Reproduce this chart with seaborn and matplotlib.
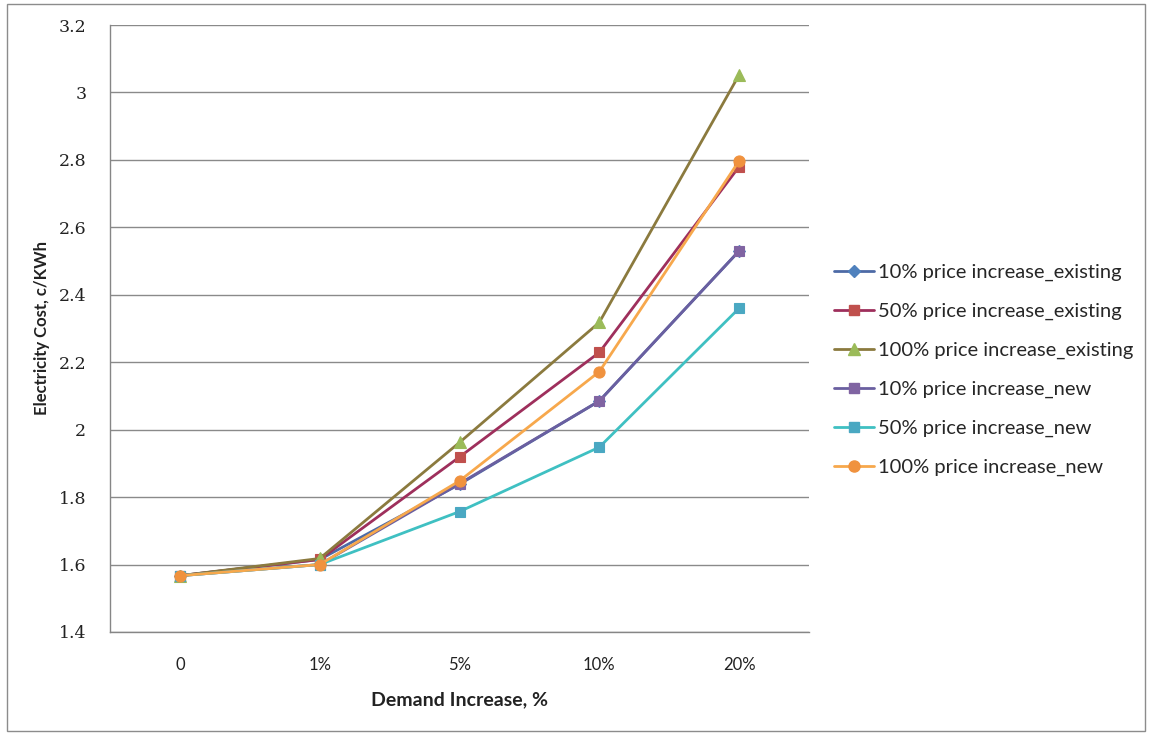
import matplotlib
matplotlib.use("Agg")
import matplotlib.pyplot as plt
from matplotlib.patches import Rectangle
from matplotlib.lines import Line2D
import numpy as np
import pandas as pd
import seaborn as sns

# Demand-increase scenarios and the resulting electricity cost (c/KWh)
categories = ["0", "1%", "5%", "10%", "20%"]
price10_existing = [1.567, 1.615, 1.838, 2.085, 2.530]
price50_existing = [1.567, 1.615, 1.919, 2.229, 2.780]
price100_existing = [1.567, 1.618, 1.962, 2.318, 3.052]
price10_new = [1.567, 1.600, 1.840, 2.085, 2.530]
price50_new = [1.567, 1.600, 1.757, 1.948, 2.360]
price100_new = [1.567, 1.600, 1.848, 2.172, 2.797]

series_names = [
    "10% price increase_existing",
    "50% price increase_existing",
    "100% price increase_existing",
    "10% price increase_new",
    "50% price increase_new",
    "100% price increase_new",
]
series_values = [price10_existing, price50_existing, price100_existing,
                 price10_new, price50_new, price100_new]

rows = []
for name, vals in zip(series_names, series_values):
    for i, (cat, v) in enumerate(zip(categories, vals)):
        rows.append({"series": name, "pos": i, "demand": cat, "cost": v})
df = pd.DataFrame(rows)

# line colour, marker, marker colour, marker size
styles = {
    "10% price increase_existing": ("#4d6aa6", "D", "#4f81bd", 6.5),
    "50% price increase_existing": ("#9e2f5c", "s", "#c0504d", 7.5),
    "100% price increase_existing": ("#8b7a3e", "^", "#9bbb59", 8.5),
    "10% price increase_new": ("#6a5fa0", "s", "#8064a2", 7.5),
    "50% price increase_new": ("#3fc0c2", "s", "#4aa8c2", 7.5),
    "100% price increase_new": ("#f7a84c", "o", "#f0923e", 8.0),
}

sns.set_style("white")
fig = plt.figure(figsize=(11.51, 7.34), dpi=100)
ax = fig.add_axes([110 / 1151, 1 - 632 / 734, 699 / 1151, 607 / 734])

for name in series_names:
    lc, mk, mc, ms = styles[name]
    sns.lineplot(data=df[df["series"] == name], x="pos", y="cost", ax=ax,
                 color=lc, linewidth=2.0, marker=mk, markersize=ms,
                 markerfacecolor=mc, markeredgecolor=mc, markeredgewidth=0.8,
                 legend=False)

yticks = np.round(np.arange(1.4, 3.21, 0.2), 1)
ax.set_xlim(-0.5, len(categories) - 0.5)
ax.set_ylim(1.4, 3.2)
ax.set_yticks(yticks)
ax.set_yticklabels([f"{t:g}" for t in yticks],
                   family="DejaVu Serif", fontsize=12.5, color="#222222")
ax.set_xticks(range(len(categories)))
ax.set_xticklabels(categories, family="Lato", fontsize=12, color="#222222")
ax.set_xticks(np.arange(-0.5, len(categories), 1.0), minor=True)
ax.tick_params(axis="x", which="major", length=0, pad=18)
ax.tick_params(axis="x", which="minor", length=5, color="#868686", width=1)
ax.tick_params(axis="y", which="major", length=5, color="#868686", width=1, pad=12)

ax.yaxis.grid(True, color="#8a8a8a", linewidth=1.0)
ax.set_axisbelow(True)
for side in ("top", "right"):
    ax.spines[side].set_visible(False)
for side in ("left", "bottom"):
    ax.spines[side].set_color("#868686")
    ax.spines[side].set_linewidth(1.0)

ax.set_xlabel("Demand Increase, %", family="Lato", fontsize=14,
              fontweight="bold", color="#222222", labelpad=13)
ax.set_ylabel("Electricity Cost, c/KWh", family="Lato", fontsize=12,
              fontweight="bold", color="#222222", labelpad=6)

handles = []
for name in series_names:
    lc, mk, mc, ms = styles[name]
    handles.append(Line2D([0], [0], color=lc, linewidth=2.0, marker=mk,
                          markersize=ms, markerfacecolor=mc, markeredgecolor=mc))
fig.legend(handles, series_names, loc="upper left",
           bbox_to_anchor=(826 / 1151, 1 - 256 / 734), frameon=False,
           prop={"family": "Lato", "size": 14.5}, handlelength=2.0,
           handletextpad=0.2, labelspacing=1.07, borderaxespad=0)

fig.patches.append(Rectangle((7 / 1151, 3 / 734), 1138 / 1151, 727 / 734,
                             transform=fig.transFigure, fill=False,
                             edgecolor="#8c8c8c", linewidth=1.0))

fig.savefig("out.png", dpi=100)
